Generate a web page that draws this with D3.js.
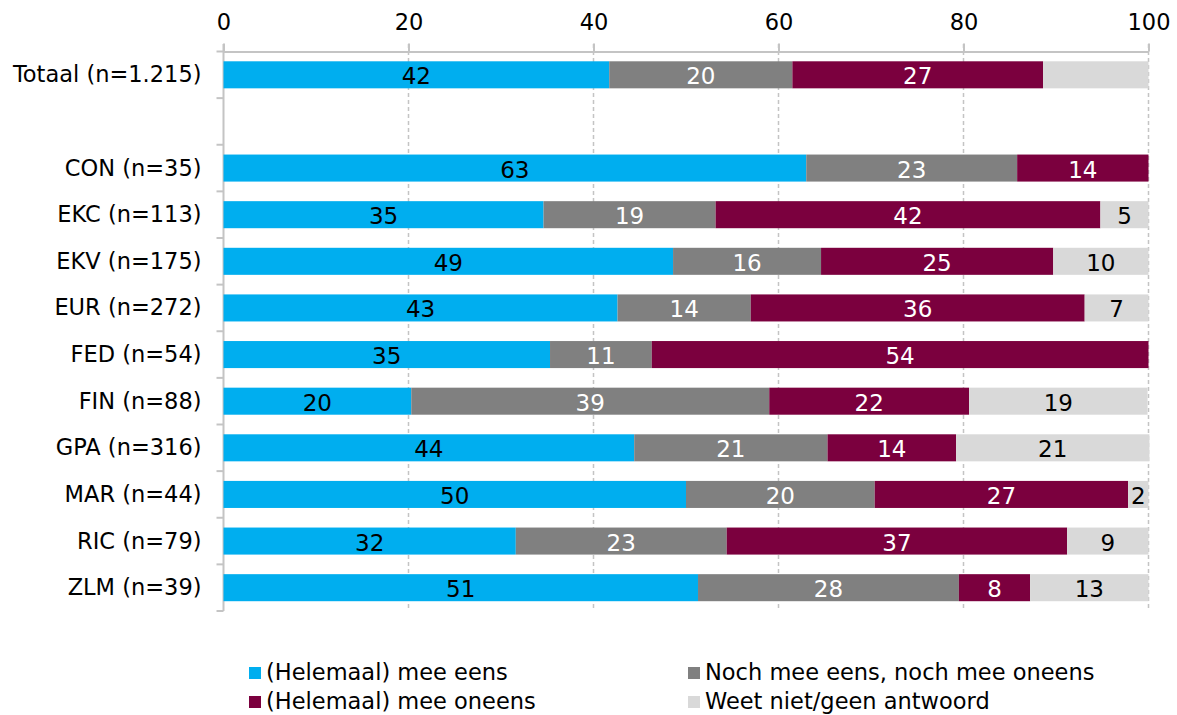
<!DOCTYPE html>
<html>
<head>
<meta charset="utf-8">
<script src="https://cdn.jsdelivr.net/npm/d3@7"></script>
<style>
  html, body { margin: 0; padding: 0; background: #fff; }
  svg { display: block; font-family: "DejaVu Sans", sans-serif; }
</style>
</head>
<body>
<svg id="chart" width="1177" height="715"></svg>
<script>
const categories = ["Totaal (n=1.215)", "", "CON (n=35)", "EKC (n=113)", "EKV (n=175)", "EUR (n=272)",
  "FED (n=54)", "FIN (n=88)", "GPA (n=316)", "MAR (n=44)", "RIC (n=79)", "ZLM (n=39)"];
const seriesNames = ["(Helemaal) mee eens", "Noch mee eens, noch mee oneens", "(Helemaal) mee oneens", "Weet niet/geen antwoord"];
const agree    = [41.7, null, 63.0, 34.6, 48.6, 42.6, 35.3, 20.3, 44.4, 50.0, 31.6, 51.3];
const neutral  = [19.8, null, 22.8, 18.6, 16.0, 14.4, 11.0, 38.7, 20.9, 20.4, 22.8, 28.2];
const disagree = [27.1, null, 14.2, 41.6, 25.1, 36.1, 53.7, 21.6, 13.9, 27.4, 36.8, 7.7];
const dontKnow = [11.4, null, 0, 5.2, 10.3, 6.9, 0, 19.3, 20.9, 2.2, 8.8, 12.8];
const xTicks = [0, 20, 40, 60, 80, 100];
// segments shown without a value label: [category, series]
const unlabeled = [["Totaal (n=1.215)", "Weet niet/geen antwoord"]];

const colors = ["#00AEEF", "#808080", "#7B003E", "#D9D9D9"];
const labelColors = ["#000", "#fff", "#fff", "#000"];
const seriesValues = [agree, neutral, disagree, dontKnow];

const svg = d3.select("#chart");
const x = d3.scaleLinear().domain([0, 100]).range([223.5, 1148.5]);
const y = d3.scaleBand().domain(categories.map((c, i) => i)).range([51.5, 611]).paddingInner(0.42).paddingOuter(0.21);
const step = y.step();
const gridColor = "#C4C4C4";

// gridlines
svg.append("g").selectAll("line").data(xTicks.filter(t => t > 0)).join("line")
  .attr("x1", d => x(d)).attr("x2", d => x(d))
  .attr("y1", 44).attr("y2", 611)
  .attr("stroke", gridColor).attr("stroke-width", 1.5).attr("stroke-dasharray", "4,3");

// top axis
const xAxis = svg.append("g").attr("transform", "translate(0,51.5)")
  .call(d3.axisTop(x).tickValues(xTicks).tickSize(8).tickSizeOuter(0).tickPadding(14));
xAxis.select(".domain").attr("stroke", gridColor).attr("stroke-width", 2);
xAxis.selectAll(".tick line").attr("stroke", gridColor).attr("stroke-width", 2);
xAxis.selectAll(".tick text").attr("font-size", 22.5).attr("fill", "#000")
  .attr("font-family", "DejaVu Sans, sans-serif");

// left axis line + ticks at band boundaries
const boundaries = d3.range(categories.length + 1).map(i => y.range()[0] + i * step);
svg.append("line").attr("x1", x(0)).attr("x2", x(0)).attr("y1", 44).attr("y2", 611)
  .attr("stroke", gridColor).attr("stroke-width", 2);
svg.append("g").selectAll("line").data(boundaries).join("line")
  .attr("x1", x(0) - 7).attr("x2", x(0)).attr("y1", d => d).attr("y2", d => d)
  .attr("stroke", gridColor).attr("stroke-width", 2);

// category labels
svg.append("g").selectAll("text").data(categories).join("text")
  .attr("x", x(0) - 22).attr("y", (d, i) => y(i) + y.bandwidth() / 2 + 7.5)
  .attr("text-anchor", "end").attr("font-size", 22.5).attr("fill", "#000")
  .text(d => d);

// stacked bars
const segs = [];
categories.forEach((c, i) => {
  let acc = 0;
  seriesValues.forEach((vals, s) => {
    const v = vals[i];
    if (v == null || v <= 0) return;
    segs.push({ cat: c, i, s, v, x0: acc, x1: acc + v });
    acc += v;
  });
});

svg.append("g").selectAll("rect").data(segs).join("rect")
  .attr("x", d => x(d.x0)).attr("width", d => x(d.x1) - x(d.x0))
  .attr("y", d => y(d.i)).attr("height", y.bandwidth())
  .attr("fill", d => colors[d.s]);

const isUnlabeled = d => unlabeled.some(u => u[0] === d.cat && u[1] === seriesNames[d.s]);
svg.append("g").selectAll("text").data(segs.filter(d => !isUnlabeled(d))).join("text")
  .attr("x", d => (x(d.x0) + x(d.x1)) / 2)
  .attr("y", d => y(d.i) + y.bandwidth() / 2 + 9.5)
  .attr("text-anchor", "middle").attr("font-size", 23)
  .attr("fill", d => labelColors[d.s])
  .text(d => Math.round(d.v));

// legend
const legendPos = [[249, 667], [688, 667], [249, 696], [688, 696]];
const legendOrder = [0, 1, 2, 3];
const lg = svg.append("g").selectAll("g").data(legendOrder).join("g")
  .attr("transform", (d, k) => `translate(${legendPos[k][0]},${legendPos[k][1]})`);
lg.append("rect").attr("width", 12).attr("height", 12).attr("fill", d => colors[d]);
lg.append("text").attr("x", 17).attr("y", 12.5).attr("font-size", 22.5).attr("fill", "#000")
  .text(d => seriesNames[d]);
</script>
</body>
</html>
